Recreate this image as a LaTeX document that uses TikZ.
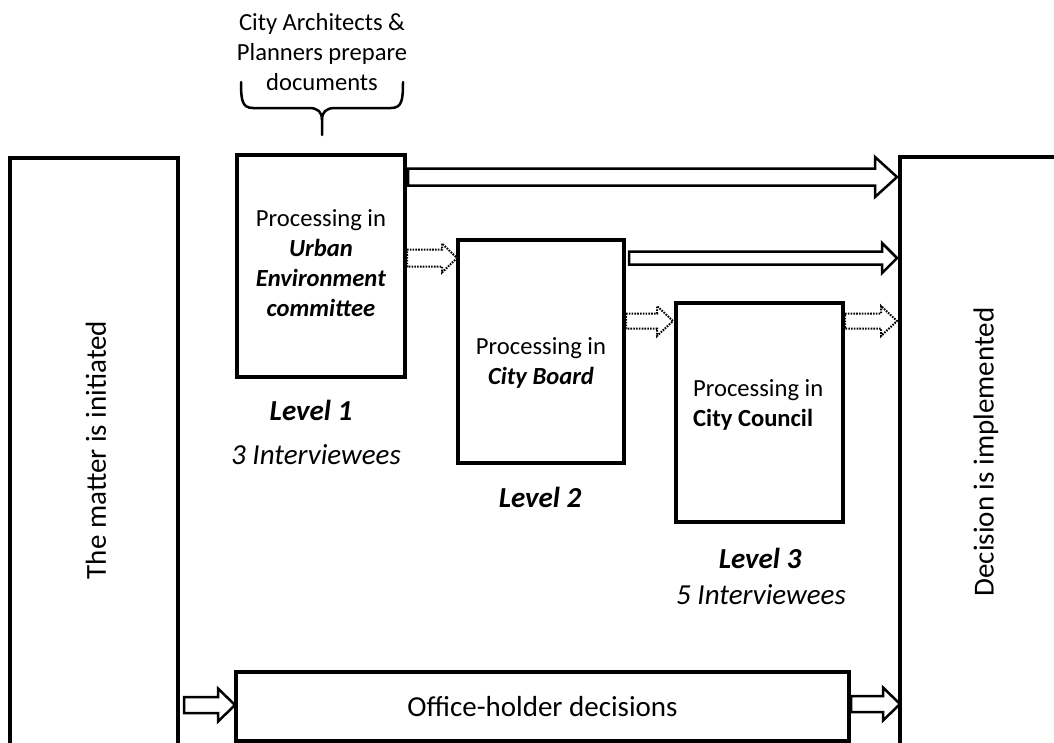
\documentclass[tikz,border=0pt]{standalone}
\usepackage{fontspec}
\setmainfont{Carlito}
\usetikzlibrary{calc}
\tikzset{
  box/.style={draw, line width=4pt, outer sep=0pt, inner sep=0pt, fill=white, anchor=north west},
  blk/.style={draw, line width=2.5pt, fill=white, line join=miter},
  dotblk/.style={draw, line width=2pt, fill=white, line join=miter, dash pattern=on 1.6pt off 1.2pt},
  txt/.style={font=\fontsize{24.6}{30}\selectfont, align=center, inner sep=0pt},
  big/.style={font=\fontsize{29}{34}\selectfont, inner sep=0pt},
  bracestyle/.style={draw, line width=2.5pt, line cap=round, line join=round},
}
% #1 style, #2 from, #3 to, #4 y, #5 shaft half, #6 head half, #7 head length, #8 start gap, #9 end gap
\newcommand\blockarr[9]{%
  \draw[#1] let \p1=(#2), \p2=(#3), \p3=(0,#4) in
    (\x1+#8pt,\y3+#5pt) -- (\x2-#9pt-#7pt,\y3+#5pt) -- (\x2-#9pt-#7pt,\y3+#6pt)
    -- (\x2-#9pt,\y3) -- (\x2-#9pt-#7pt,\y3-#6pt) -- (\x2-#9pt-#7pt,\y3-#5pt)
    -- (\x1+#8pt,\y3-#5pt) -- cycle;}
\begin{document}
\begin{tikzpicture}[x=1pt,y=-1pt]
\useasboundingbox (0,0) rectangle (1054,742);
\clip (0,0) rectangle (1054,742);

% side boxes
\node[box, minimum width=168, minimum height=620] (L) at (10,158) {};
\node[box, minimum width=170, minimum height=620] (R) at (900,157) {};
\node[big, rotate=90] (Ltxt) at (96,450) {The matter is initiated};
\node[big, rotate=90] (Rtxt) at (986,452) {Decision is implemented};

% level boxes
\node[box, minimum width=168, minimum height=222] (B1) at (237,155) {};
\node[box, minimum width=166, minimum height=223] (B2) at (458,240) {};
\node[box, minimum width=167, minimum height=219] (B3) at (676,303) {};
\node[box, minimum width=613, minimum height=69, font=\fontsize{29}{34}\selectfont] (O) at (236,672) {Office-holder decisions};

% texts in boxes
\node[txt] (B1txt) at (321,263) {Processing in\\\textbf{\textit{Urban}}\\\textbf{\textit{Environment}}\\\textbf{\textit{committee}}};
\node[txt] (B2txt) at (541,363) {Processing in\\\textbf{\textit{City Board}}};
\node[txt, align=left, anchor=west] (B3txt) at (693,405) {Processing in\\\textbf{City Council}};

% level labels
\node[big, font=\fontsize{29}{34}\selectfont\bfseries\itshape] (lv1) at (311,410) {Level 1};
\node[big, font=\fontsize{29}{34}\selectfont\itshape] (iv1) at (316,455) {3 Interviewees};
\node[big, font=\fontsize{29}{34}\selectfont\bfseries\itshape] (lv2) at (540,497) {Level 2};
\node[big, font=\fontsize{29}{34}\selectfont\bfseries\itshape] (lv3) at (760,558) {Level 3};
\node[big, font=\fontsize{29}{34}\selectfont\itshape] (iv3) at (761,595) {5 Interviewees};

% top note and brace
\node[txt] (note) at (322,52) {City Architects \&\\Planners prepare\\documents};
\coordinate (brL) at (241,82);
\coordinate (brR) at (403,82);
\coordinate (brT) at (322,135);
\draw[bracestyle] (brL) .. controls (241,100) and (242,108) .. (253,108) -- (309,108)
   .. controls (318,108) and (322,112) .. (322,120) -- (brT);
\draw[bracestyle] (brR) .. controls (403,100) and (402,108) .. (391,108) -- (335,108)
   .. controls (326,108) and (322,112) .. (322,120);

% solid block arrows
\blockarr{blk}{B1.east}{R.west}{177}{8.5}{20}{22}{3}{3}
\blockarr{blk}{B2.east}{R.west}{258}{6.5}{15}{15}{5}{3}
\blockarr{blk}{L.east}{O.west}{705}{8}{16.5}{17}{6}{1}
\blockarr{blk}{O.east}{R.west}{704}{8}{16.5}{17}{2}{0}

% dotted block arrows
\blockarr{dotblk}{B1.east}{B2.west}{258}{8.5}{14.5}{15}{2}{1}
\blockarr{dotblk}{B2.east}{B3.west}{321}{7.5}{15}{16}{2}{3}
\blockarr{dotblk}{B3.east}{R.west}{321}{7.5}{15}{16}{2}{3}
\end{tikzpicture}
\end{document}
